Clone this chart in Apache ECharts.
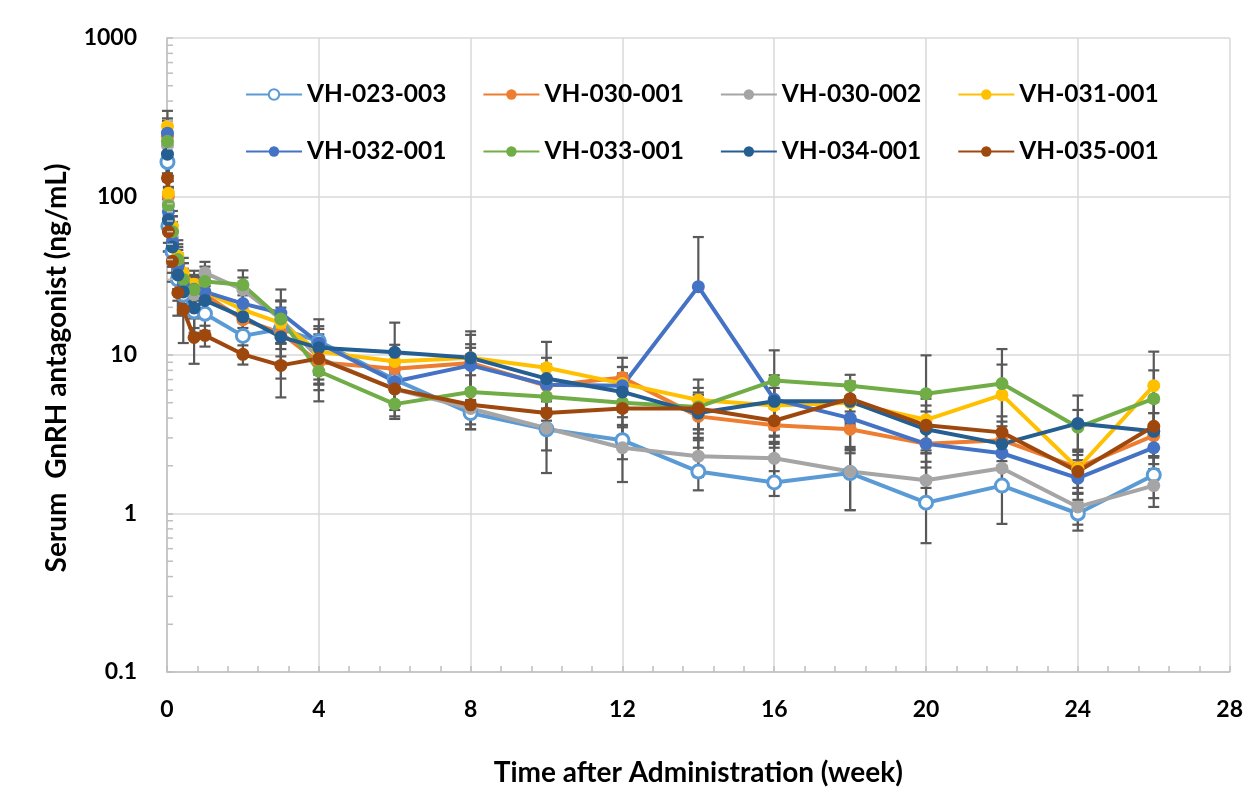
<!DOCTYPE html>
<html><head><meta charset="utf-8">
<script src="https://cdn.jsdelivr.net/npm/echarts@6/dist/echarts.min.js"></script>
<style>html,body{margin:0;padding:0;background:#fff}#c{width:1246px;height:796px}</style>
</head><body><div id="c"></div>
<script>
// ---- data ----
const weeks = [0.012, 0.036, 0.143, 0.286, 0.429, 0.714, 1, 2, 3, 4, 6, 8, 10, 12, 14, 16, 18, 20, 22, 24, 26];
const xTickLabels = ['0', '4', '8', '12', '16', '20', '24', '28'];
const yTickLabels = ['0.1', '1', '10', '100', '1000'];
const yMinorTicks = [0.2, 0.3, 0.4, 0.5, 0.6, 0.7, 0.8, 0.9,
  2, 3, 4, 5, 6, 7, 8, 9,
  20, 30, 40, 50, 60, 70, 80, 90,
  200, 300, 400, 500, 600, 700, 800, 900];

const seriesNames = ['VH-023-003', 'VH-030-001', 'VH-030-002', 'VH-031-001',
  'VH-032-001', 'VH-033-001', 'VH-034-001', 'VH-035-001'];

const vh023_003 = [165, 65, 45, 30, 24, 18.8, 18.2, 13.2, 14.6, 12.2, 7.0, 4.3, 3.4, 2.9, 1.84, 1.57, 1.8, 1.17, 1.5, 1.0, 1.75];
const vh030_001 = [240, 100, 60, 38, 30, 25, 24, 16.7, 13.8, 9.0, 8.2, 8.9, 6.4, 7.2, 4.1, 3.6, 3.4, 2.75, 2.9, 1.95, 3.1];
const vh030_002 = [210, 90, 55, 35, 27, 24, 33, 25.8, 16.8, 9.6, 6.1, 4.6, 3.45, 2.6, 2.3, 2.23, 1.84, 1.62, 1.93, 1.1, 1.5];
const vh031_001 = [277, 105, 65, 42, 33, 28, 25, 19.3, 15.9, 10.5, 9.1, 9.6, 8.3, 6.6, 5.2, 4.8, 5.0, 3.9, 5.6, 1.93, 6.4];
const vh032_001 = [251, 80, 52, 36, 28, 26, 25, 21.1, 18.4, 11.9, 6.8, 8.6, 6.5, 6.4, 27, 5.25, 4.0, 2.75, 2.4, 1.67, 2.6];
const vh033_001 = [223, 87.5, 60, 40, 30, 25.8, 29.1, 27.7, 16.9, 7.9, 4.9, 5.85, 5.45, 5.0, 4.7, 6.9, 6.4, 5.7, 6.6, 3.5, 5.3];
const vh034_001 = [185, 71, 48, 32, 25, 19.8, 22.1, 17.4, 13.0, 11.1, 10.4, 9.6, 7.1, 5.85, 4.3, 5.1, 5.1, 3.4, 2.75, 3.7, 3.3];
const vh035_001 = [131, 60, 39, 24.7, 19.3, 12.9, 13.3, 10.1, 8.6, 9.5, 6.1, 4.85, 4.3, 4.6, 4.6, 3.85, 5.3, 3.6, 3.25, 1.84, 3.55];

// standard deviations (linear units)
const sd023_003 = [40, 20, 12, 8, 6, 5, 4, 3, 7.5, 3, 2, 0.9, 0.9, 0.7, 0.44, 0.28, 0.75, 0.52, 0.64, 0.22, 0.5];
const sd030_001 = [60, 25, 15, 10, 8, 6, 5, 4, 4, 2.5, 2.2, 2.8, 2, 2.4, 1.5, 1.0, 1.0, 0.8, 0.9, 0.5, 1.2];
const sd030_002 = [50, 25, 14, 9, 7, 6, 5.7, 5, 5, 3, 1.6, 1.2, 1.65, 1.02, 0.6, 0.6, 0.79, 0.5, 0.5, 0.25, 0.4];
const sd031_001 = [70, 30, 16, 11, 8, 6, 6, 4.5, 4, 3, 2.5, 3.8, 3.8, 1.8, 1.8, 1.4, 1.3, 1.4, 3.1, 0.6, 4.1];
const sd032_001 = [60, 22, 14, 10, 7, 6, 6, 5, 7.5, 4.9, 2, 2.5, 2.2, 2, 28.5, 2.2, 1.5, 1.1, 0.9, 0.5, 0.8];
const sd033_001 = [55, 25, 15, 10, 8, 6, 7, 6.5, 5, 2.8, 0.95, 1.6, 1.6, 1.5, 1.5, 3.8, 1.1, 4.25, 4.3, 1.0, 2.7];
const sd034_001 = [45, 20, 12, 8, 6, 5, 5, 4, 4, 3.5, 5.6, 4.5, 2.5, 1.8, 1.3, 1.6, 1.5, 1.0, 0.8, 1.85, 1.0];
const sd035_001 = [35, 15, 10, 7, 7.4, 4.1, 2.0, 1.4, 3.2, 3.5, 2.0, 1.2, 1.0, 1.5, 1.2, 1.1, 1.5, 1.2, 0.85, 0.5, 1.5];

const seriesValues = [vh023_003, vh030_001, vh030_002, vh031_001, vh032_001, vh033_001, vh034_001, vh035_001];
const seriesSD = [sd023_003, sd030_001, sd030_002, sd031_001, sd032_001, sd033_001, sd034_001, sd035_001];

// ---- styles ----
const FONT = 'Lato, "Liberation Sans", Arial, sans-serif';
const colors = ['#5B9BD5', '#ED7D31', '#A5A5A5', '#FFC000', '#4472C4', '#70AD47', '#255E91', '#9E480E'];
const ERR = '#595959';
const AXIS = '#BFBFBF';
const GRID = '#D9D9D9';

const chart = echarts.init(document.getElementById('c'), null, { renderer: 'canvas' });

const lineSeries = seriesNames.map((n, i) => ({
  name: n,
  type: 'line',
  data: weeks.map((w, j) => [w, seriesValues[i][j]]),
  symbol: 'circle',
  symbolSize: 13,
  showSymbol: true,
  lineStyle: { color: colors[i], width: 4 },
  itemStyle: i === 0
    ? { color: '#ffffff', borderColor: colors[i], borderWidth: 3 }
    : { color: colors[i], borderColor: colors[i], borderWidth: 0 },
  emphasis: { disabled: true },
  z: 3,
  animation: false
}));

const errData = [];
seriesValues.forEach((vals, i) => vals.forEach((v, j) => errData.push([weeks[j], v, seriesSD[i][j]])));

const errSeries = {
  type: 'custom',
  name: 'errorbars',
  data: errData,
  dimensions: ['x', 'y', 'sd'],
  encode: { x: 0, y: 1 },
  z: 2,
  silent: true,
  animation: false,
  renderItem(params, api) {
    const x = api.value(0), y = api.value(1), s = api.value(2);
    const top = api.coord([x, y + s]);
    const low = y - s;
    const bot = low > 0 ? api.coord([x, low]) : api.coord([x, y]);
    const hw = 5.5;
    const st = { stroke: ERR, lineWidth: 2.2 };
    const ch = [
      { type: 'line', shape: { x1: top[0], y1: top[1], x2: bot[0], y2: bot[1] }, style: st },
      { type: 'line', shape: { x1: top[0] - hw, y1: top[1], x2: top[0] + hw, y2: top[1] }, style: st }
    ];
    if (low > 0) ch.push({ type: 'line', shape: { x1: bot[0] - hw, y1: bot[1], x2: bot[0] + hw, y2: bot[1] }, style: st });
    return { type: 'group', children: ch };
  }
};

const minorTickSeries = {
  type: 'custom',
  name: 'yminor',
  data: yMinorTicks.map(v => [0, v]),
  encode: { x: 0, y: 1 },
  z: 4,
  silent: true,
  animation: false,
  clip: false,
  renderItem(params, api) {
    const p = api.coord([api.value(0), api.value(1)]);
    return { type: 'line', shape: { x1: p[0], y1: p[1], x2: p[0] + 6, y2: p[1] }, style: { stroke: AXIS, lineWidth: 1.5 } };
  }
};

const labelStyle = { fontFamily: FONT, fontWeight: 'bold', fontSize: 23, color: '#000' };
const legendCommon = {
  itemWidth: 56, itemHeight: 13, itemGap: 36, orient: 'horizontal', padding: 0,
  textStyle: { fontFamily: FONT, fontWeight: 'bold', fontSize: 24.5, color: '#000' },
  selectedMode: false
};

chart.setOption({
  animation: false,
  backgroundColor: '#fff',
  grid: { left: 167, right: 13, top: 38, bottom: 124, containLabel: false },
  legend: [
    Object.assign({ data: seriesNames.slice(0, 4), left: 245, top: 82 }, legendCommon),
    Object.assign({ data: seriesNames.slice(4, 8), left: 245, top: 139 }, legendCommon)
  ],
  xAxis: {
    type: 'value', min: 0, max: 28, interval: 4,
    axisLine: { show: true, lineStyle: { color: AXIS, width: 1.5 } },
    axisTick: { show: true, inside: true, length: 6, lineStyle: { color: AXIS, width: 1.5 } },
    minorTick: { show: true, splitNumber: 5, length: 6, lineStyle: { color: AXIS, width: 1.5 } },
    splitLine: { show: true, lineStyle: { color: GRID, width: 1.5 } },
    axisLabel: Object.assign({ margin: 26, formatter: v => xTickLabels[Math.round(v / 4)] }, labelStyle),
    name: 'Time after Administration (week)',
    nameLocation: 'middle', nameGap: 87,
    nameTextStyle: { fontFamily: FONT, fontWeight: 'bold', fontSize: 28, color: '#000' }
  },
  yAxis: {
    type: 'log', logBase: 10, min: 0.1, max: 1000,
    axisLine: { show: true, lineStyle: { color: AXIS, width: 1.5 } },
    axisTick: { show: true, inside: true, length: 6, lineStyle: { color: AXIS, width: 1.5 } },
    splitLine: { show: true, lineStyle: { color: GRID, width: 1.5 } },
    axisLabel: Object.assign({ margin: 30, formatter: v => yTickLabels[Math.round(Math.log10(v)) + 1] }, labelStyle),
    name: 'Serum  GnRH antagonist (ng/mL)',
    nameLocation: 'middle', nameGap: 96,
    nameTextStyle: { fontFamily: FONT, fontWeight: 'bold', fontSize: 28, color: '#000', padding: [0, 26, 0, 0] }
  },
  series: [errSeries, minorTickSeries].concat(lineSeries)
});
</script>
</body></html>
